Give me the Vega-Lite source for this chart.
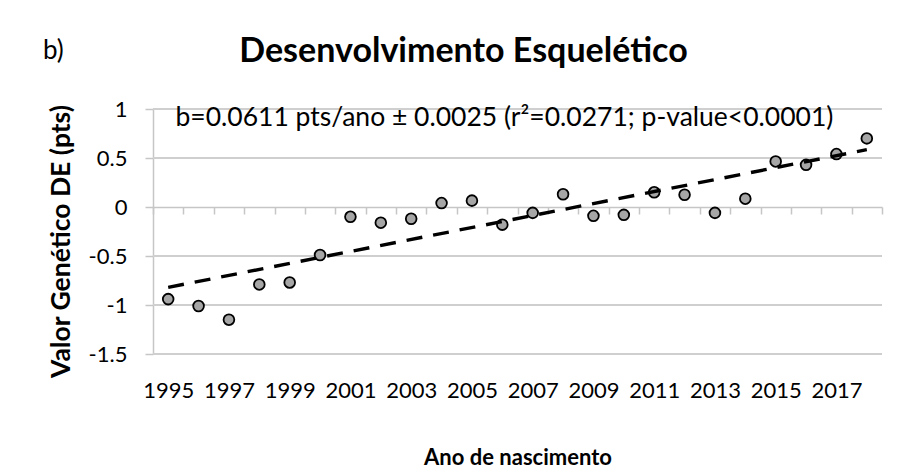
{
  "$schema": "https://vega.github.io/schema/vega-lite/v6.json",
  "width": 729,
  "height": 245,
  "autosize": {"type": "none"},
  "padding": {"left": 153, "top": 109, "right": 26, "bottom": 118},
  "background": "white",
  "config": {
    "view": {"stroke": null},
    "font": "Lato",
    "text": {"font": "Lato", "color": "#000000"}
  },
  "title": {
    "text": "Desenvolvimento Esquelético",
    "font": "Lato",
    "fontSize": 34,
    "fontWeight": "bold",
    "color": "#000000",
    "anchor": "middle",
    "frame": "group",
    "dx": -54,
    "offset": -31
  },
  "datasets": {
    "gridlines": [
      {"value": -1.5},
      {"value": -1},
      {"value": -0.5},
      {"value": 0.5},
      {"value": 1}
    ],
    "points": [
      {"year": 1995, "value": -0.94},
      {"year": 1996, "value": -1.01},
      {"year": 1997, "value": -1.15},
      {"year": 1998, "value": -0.79},
      {"year": 1999, "value": -0.77},
      {"year": 2000, "value": -0.49},
      {"year": 2001, "value": -0.10},
      {"year": 2002, "value": -0.16},
      {"year": 2003, "value": -0.12},
      {"year": 2004, "value": 0.04},
      {"year": 2005, "value": 0.065},
      {"year": 2006, "value": -0.18},
      {"year": 2007, "value": -0.06},
      {"year": 2008, "value": 0.13},
      {"year": 2009, "value": -0.09},
      {"year": 2010, "value": -0.08},
      {"year": 2011, "value": 0.15},
      {"year": 2012, "value": 0.125},
      {"year": 2013, "value": -0.06},
      {"year": 2014, "value": 0.085},
      {"year": 2015, "value": 0.465},
      {"year": 2016, "value": 0.43},
      {"year": 2017, "value": 0.54},
      {"year": 2018, "value": 0.70}
    ],
    "trend": [
      {"year": 1995, "fit": -0.82},
      {"year": 2018, "fit": 0.585}
    ]
  },
  "layer": [
    {
      "data": {"name": "gridlines"},
      "mark": {"type": "rule", "color": "#cfcfcf", "strokeWidth": 2},
      "encoding": {
        "x": {"datum": 1994.5, "type": "quantitative", "axis": null},
        "x2": {"datum": 2018.5},
        "y": {"field": "value", "type": "quantitative"}
      }
    },
    {
      "data": {"name": "points"},
      "mark": {"type": "point", "shape": "circle", "filled": true, "fill": "#a6a6a6", "stroke": "#000000", "strokeWidth": 1.8, "size": 115, "opacity": 1},
      "encoding": {
        "x": {
          "field": "year", "type": "quantitative",
          "scale": {"domain": [1994.5, 2018.5], "nice": false, "zero": false},
          "axis": {
            "orient": "bottom",
            "values": [1994.5, 1995.5, 1996.5, 1997.5, 1998.5, 1999.5, 2000.5, 2001.5, 2002.5, 2003.5, 2004.5, 2005.5, 2006.5, 2007.5, 2008.5, 2009.5, 2010.5, 2011.5, 2012.5, 2013.5, 2014.5, 2015.5, 2016.5, 2017.5, 2018.5],
            "labels": false,
            "grid": false,
            "title": null,
            "domain": true,
            "domainColor": "#c6c6c6",
            "domainWidth": 1.5,
            "ticks": true,
            "tickColor": "#c6c6c6",
            "tickWidth": 1.5,
            "tickSize": 7,
            "offset": -147,
            "zindex": 0
          }
        },
        "y": {
          "field": "value", "type": "quantitative",
          "scale": {"domain": [-1.5, 1], "nice": false, "zero": false},
          "axis": {
            "orient": "left",
            "values": [-1.5, -1, -0.5, 0, 0.5, 1],
            "labelExpr": "'' + datum.value",
            "labelFont": "Lato",
            "labelFontSize": 22,
            "labelColor": "#000000",
            "labelPadding": 18,
            "domain": true,
            "domainColor": "#c6c6c6",
            "domainWidth": 1.5,
            "ticks": true,
            "tickColor": "#c6c6c6",
            "tickWidth": 1.5,
            "tickSize": 8,
            "grid": false,
            "title": "Valor Genético DE (pts)",
            "titleFont": "Lato",
            "titleFontSize": 26.5,
            "titleFontWeight": "bold",
            "titleColor": "#000000",
            "titlePadding": 13,
            "titleY": 132
          }
        }
      }
    },
    {
      "data": {"name": "trend"},
      "mark": {"type": "line", "color": "#000000", "strokeWidth": 3.4, "strokeDash": [16, 11]},
      "encoding": {
        "x": {
          "field": "year", "type": "quantitative",
          "axis": {
            "orient": "bottom",
            "values": [1995, 1997, 1999, 2001, 2003, 2005, 2007, 2009, 2011, 2013, 2015, 2017],
            "format": "d",
            "domain": false,
            "ticks": false,
            "tickSize": 0,
            "grid": false,
            "labelFont": "Lato",
            "labelFontSize": 22,
            "labelColor": "#000000",
            "labelPadding": 26,
            "title": "Ano de nascimento",
            "titleFont": "Lato",
            "titleFontSize": 22,
            "titleFontWeight": "bold",
            "titleColor": "#000000",
            "titlePadding": 46
          }
        },
        "y": {"field": "fit", "type": "quantitative"}
      }
    },
    {
      "data": {"values": [{"label": "b=0.0611 pts/ano ± 0.0025 (r²=0.0271; p-value<0.0001)"}]},
      "mark": {"type": "text", "fontSize": 26.5, "font": "Lato", "align": "center", "baseline": "alphabetic", "color": "#000000"},
      "encoding": {
        "x": {"datum": 2006.07, "type": "quantitative", "axis": null},
        "y": {"datum": 0.83, "type": "quantitative"},
        "text": {"field": "label"}
      }
    },
    {
      "data": {"values": [{"label": "b)"}]},
      "mark": {"type": "text", "fontSize": 26, "font": "Lato", "align": "left", "baseline": "alphabetic", "color": "#000000"},
      "encoding": {
        "x": {"datum": 1990.88, "type": "quantitative", "axis": null},
        "y": {"datum": 1.515, "type": "quantitative"},
        "text": {"field": "label"}
      }
    }
  ],
  "resolve": {"axis": {"x": "independent"}}
}
